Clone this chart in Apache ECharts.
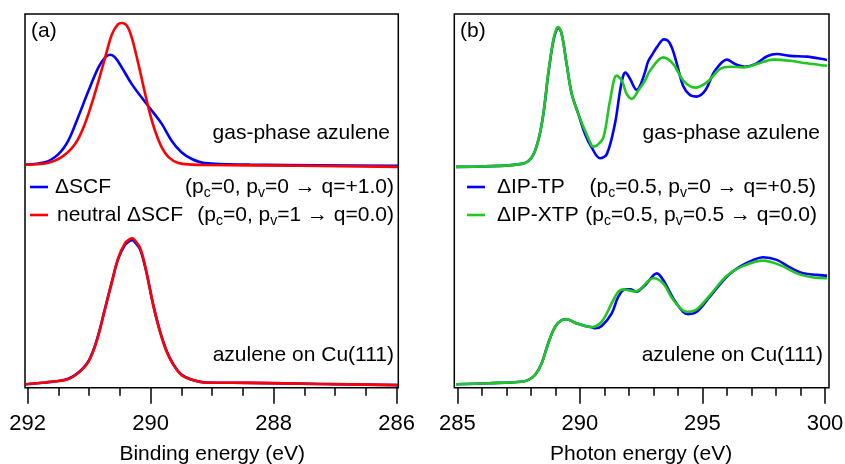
<!DOCTYPE html>
<html>
<head>
<meta charset="utf-8">
<script src="https://cdn.jsdelivr.net/npm/echarts@6/dist/echarts.min.js"></script>
<style>html,body{margin:0;padding:0;background:#fff}#c{width:845px;height:464px}</style>
</head>
<body>
<div id="c"></div>
<script>
// ---- (a) XPS, binding energy (eV), intensity in arbitrary units (0-100 panel scale)
const gasE_scf = [292.04, 291.72, 291.50, 291.34, 291.18, 291.01, 290.85, 290.74, 290.66, 290.58, 290.47, 290.31, 290.15, 289.98, 289.82, 289.66, 289.50, 289.33, 289.12, 288.39, 287.25, 285.97];
const gasScf   = [59.7, 60.3, 62.5, 66.1, 72.4, 79.5, 85.7, 88.4, 89.1, 88.4, 85.7, 81.3, 77.7, 74.1, 70.6, 66.1, 63.0, 61.2, 60.1, 59.7, 59.5, 59.4];
const gasE_neu = [292.04, 291.72, 291.45, 291.23, 291.07, 290.91, 290.74, 290.63, 290.53, 290.47, 290.39, 290.31, 290.20, 290.09, 290.01, 289.93, 289.82, 289.71, 289.55, 289.33, 289.12, 287.57, 285.97];
const gasNeutral = [59.7, 60.0, 61.7, 65.2, 70.6, 78.6, 88.4, 94.6, 97.3, 97.6, 96.9, 93.8, 86.6, 78.6, 73.2, 68.8, 64.3, 61.7, 60.1, 59.7, 59.6, 59.4, 59.1];
const cuE_a    = [292.04, 291.72, 291.50, 291.34, 291.18, 291.01, 290.88, 290.74, 290.63, 290.53, 290.42, 290.34, 290.30, 290.26, 290.17, 290.07, 289.96, 289.85, 289.74, 289.63, 289.50, 289.33, 289.12, 288.39, 287.25, 285.97];
const cuScf    = [0.9, 1.4, 1.8, 2.4, 4.0, 7.2, 12.6, 21.4, 28.4, 34.4, 38.2, 39.3, 39.5, 39.0, 36.9, 30.9, 22.3, 15.2, 9.8, 6.2, 3.5, 2.1, 1.4, 1.3, 1.0, 0.7];
const cuNeutral= [0.9, 1.4, 1.8, 2.3, 3.9, 7.0, 12.3, 21.2, 28.4, 34.6, 38.6, 39.8, 40.0, 39.5, 37.3, 31.0, 22.1, 15.0, 9.6, 6.1, 3.4, 2.1, 1.4, 1.3, 1.0, 0.7];

// ---- (b) NEXAFS, photon energy (eV)
const gasE_TP = [284.88, 285.93, 287.63, 288.04, 288.30, 288.51, 288.71, 288.92, 289.06, 289.12, 289.26, 289.46, 289.67, 289.94, 290.21, 290.48, 290.82, 291.10, 291.43, 291.64, 291.77, 291.86, 292.05, 292.32, 292.45, 292.66, 292.78, 292.94, 293.15, 293.43, 293.60, 293.76, 293.96, 294.21, 294.49, 294.77, 295.11, 295.51, 296.00, 296.33, 296.74, 297.15, 297.64, 298.04, 298.57, 299.27, 300.00, 300.16];
const gasTP   = [59.1, 59.2, 59.9, 61.7, 66.1, 73.2, 83.9, 92.9, 96.0, 96.2, 94.6, 86.6, 78.6, 73.2, 67.9, 64.3, 61.4, 62.5, 70.6, 79.5, 83.5, 84.3, 82.6, 79.7, 80.7, 84.5, 87.2, 89.0, 91.2, 93.2, 92.8, 90.9, 86.6, 80.8, 78.3, 77.9, 79.5, 84.8, 87.8, 86.6, 85.9, 86.6, 88.7, 89.3, 88.8, 88.6, 87.8, 87.6];
const gasE_XTP = [284.88, 285.93, 287.63, 288.04, 288.30, 288.51, 288.71, 288.92, 289.06, 289.12, 289.26, 289.46, 289.67, 289.94, 290.21, 290.48, 290.55, 290.69, 290.96, 291.23, 291.50, 291.71, 291.91, 292.12, 292.38, 292.66, 292.86, 293.40, 293.81, 294.22, 294.70, 295.18, 295.72, 296.13, 296.67, 297.22, 297.89, 298.57, 299.26, 300.00, 300.16];
const gasXTP   = [59.1, 59.2, 59.9, 61.7, 66.1, 73.2, 84.2, 93.2, 96.3, 96.5, 94.6, 86.6, 78.6, 73.2, 68.8, 64.8, 64.5, 64.8, 67.0, 76.8, 83.5, 82.2, 78.6, 77.3, 79.5, 82.2, 84.8, 88.4, 86.6, 82.2, 80.3, 81.7, 85.3, 85.9, 85.7, 86.6, 87.8, 87.5, 86.8, 86.2, 86.1];
const cuE_TP = [284.88, 286.26, 287.63, 287.90, 288.17, 288.44, 288.71, 288.99, 289.26, 289.46, 289.80, 290.21, 290.48, 290.62, 290.89, 291.30, 291.57, 291.84, 292.05, 292.32, 292.52, 292.73, 293.14, 293.40, 293.81, 294.21, 294.42, 294.77, 295.31, 295.99, 296.53, 297.08, 297.48, 298.03, 298.57, 299.12, 299.66, 300.00, 300.16];
const cuTP   = [0.9, 1.2, 1.6, 2.1, 3.4, 6.5, 11.9, 16.3, 18.1, 18.3, 17.4, 16.5, 16.2, 15.9, 16.5, 19.9, 24.4, 26.3, 26.3, 25.7, 26.6, 27.9, 30.6, 28.8, 23.9, 20.3, 19.7, 20.3, 24.4, 29.7, 32.4, 34.2, 34.9, 34.2, 32.2, 30.6, 30.2, 30.0, 30.0];
const cuE_XTP = [284.88, 286.26, 287.63, 287.90, 288.17, 288.44, 288.71, 288.99, 289.26, 289.46, 289.80, 290.21, 290.48, 290.89, 291.30, 291.57, 291.77, 291.98, 292.25, 292.45, 293.00, 293.40, 293.81, 294.36, 294.77, 295.31, 295.99, 296.67, 297.48, 298.17, 298.85, 299.52, 300.00, 300.16];
const cuXTP   = [0.9, 1.2, 1.6, 2.1, 3.4, 6.5, 11.9, 16.3, 18.1, 18.3, 17.4, 16.5, 16.2, 17.7, 22.6, 25.7, 26.3, 26.1, 25.7, 26.3, 29.3, 27.9, 23.5, 20.3, 21.0, 24.8, 29.9, 32.6, 34.0, 32.8, 30.6, 29.5, 29.3, 29.3];

// ---- axis ticks / labels
const xTicksA = [286, 292, 2];      // min, max, interval
const xTicksB = [285, 300, 5];
const xNameA = 'Binding energy (eV)';
const xNameB = 'Photon energy (eV)';

const FONT = "'Liberation Sans', Arial, Helvetica, sans-serif";
const BLUE = '#0000ff', RED = '#ff0000', GREEN = '#1ec81e';
const zip = (xs, ys) => xs.map((x, i) => [x, ys[i]]);

function dataAxis(grid, t, inverse, split, name) {
  return {
    gridIndex: grid, type: 'value', min: t[0], max: t[1], interval: t[2], inverse: inverse,
    axisLine: { show: false },
    axisTick: { show: true, length: 16, lineStyle: { color: '#000', width: 1.5 } },
    minorTick: { show: true, splitNumber: split, length: 8, lineStyle: { color: '#000', width: 1.5 } },
    axisLabel: { margin: 25, fontSize: 22, color: '#000', fontFamily: FONT },
    splitLine: { show: false }, minorSplitLine: { show: false },
    name: name, nameLocation: 'middle', nameGap: 56,
    nameTextStyle: { fontSize: 21, color: '#000', fontFamily: FONT }
  };
}
function line(x, y, color, z) {
  return {
    type: 'line', xAxisIndex: x, yAxisIndex: x, showSymbol: false, smooth: 0.35, clip: false,
    lineStyle: { color: color, width: 2.6 }, itemStyle: { color: color }, z: z, silent: true
  };
}
const sub = { fontSize: 14, fontFamily: FONT, color: '#000', verticalAlign: 'bottom', lineHeight: 14 };
const main = { fontSize: 21, fontFamily: FONT, color: '#000', lineHeight: 27 };
function txt(x, y, text, align, rich) {
  return { type: 'text', x: x, y: y, silent: true,
    style: { text: text, fill: '#000', font: '21px ' + FONT, align: align, verticalAlign: 'middle',
             rich: rich ? { m: main, s: sub } : undefined } };
}
function sample(x1, x2, y, color) {
  return { type: 'line', silent: true, shape: { x1: x1, y1: y, x2: x2, y2: y }, style: { stroke: color, lineWidth: 2.6 } };
}

const chart = echarts.init(document.getElementById('c'), null, { renderer: 'canvas' });
const hiddenAxis = (g) => ({ gridIndex: g, show: false, min: 0, max: 1 });
const yData = (g) => ({ gridIndex: g, type: 'value', show: false, min: 0, max: 100 });

const sA1 = Object.assign(line(1, 1, BLUE, 3), { data: zip(gasE_scf, gasScf) });
const sA2 = Object.assign(line(1, 1, RED, 4), { data: zip(gasE_neu, gasNeutral) });
const sA3 = Object.assign(line(1, 1, BLUE, 3), { data: zip(cuE_a, cuScf) });
const sA4 = Object.assign(line(1, 1, RED, 4), { data: zip(cuE_a, cuNeutral) });
const sB1 = Object.assign(line(3, 3, BLUE, 3), { data: zip(gasE_TP, gasTP) });
const sB2 = Object.assign(line(3, 3, GREEN, 4), { data: zip(gasE_XTP, gasXTP) });
const sB3 = Object.assign(line(3, 3, BLUE, 3), { data: zip(cuE_TP, cuTP) });
const sB4 = Object.assign(line(3, 3, GREEN, 4), { data: zip(cuE_XTP, cuXTP) });

const gridBase = { outerBoundsMode: 'none', containLabel: false };
chart.setOption({
  animation: false,
  backgroundColor: '#fff',
  grid: [
    Object.assign({ left: 25, top: 14, width: 373.3, height: 373.7, show: true, borderColor: '#000', borderWidth: 1.5, backgroundColor: 'transparent', z: 10 }, gridBase),
    Object.assign({ left: 27.7, top: 14, width: 369, height: 373.7 }, gridBase),
    Object.assign({ left: 454.3, top: 14, width: 374.7, height: 373.7, show: true, borderColor: '#000', borderWidth: 1.5, backgroundColor: 'transparent', z: 10 }, gridBase),
    Object.assign({ left: 457.3, top: 14, width: 367.7, height: 373.7 }, gridBase)
  ],
  xAxis: [hiddenAxis(0), dataAxis(1, xTicksA, true, 4, xNameA), hiddenAxis(2), dataAxis(3, xTicksB, false, 5, xNameB)],
  yAxis: [
    { gridIndex: 0, show: false, min: 0, max: 1 }, yData(1),
    { gridIndex: 2, show: false, min: 0, max: 1 }, yData(3)
  ],
  series: [sA1, sA2, sA3, sA4, sB1, sB2, sB3, sB4],
  graphic: [
    txt(31, 31, '(a)', 'left'),
    txt(460, 31, '(b)', 'left'),
    txt(390, 133, 'gas-phase azulene', 'right'),
    txt(820, 133, 'gas-phase azulene', 'right'),
    txt(394, 355, 'azulene on Cu(111)', 'right'),
    txt(823, 355, 'azulene on Cu(111)', 'right'),
    sample(30, 48, 187, BLUE),
    sample(30, 48, 215, RED),
    txt(55, 187, '\u0394SCF', 'left'),
    txt(57, 215, 'neutral \u0394SCF', 'left'),
    txt(394, 187, '{m|(p}{s|c}{m|=0, p}{s|v}{m|=0 \u2192 q=+1.0)}', 'right', true),
    txt(394, 215, '{m|(p}{s|c}{m|=0, p}{s|v}{m|=1 \u2192 q=0.0)}', 'right', true),
    sample(467, 485, 187, BLUE),
    sample(467, 485, 215, GREEN),
    txt(497, 187, '\u0394IP-TP', 'left'),
    txt(497, 215, '\u0394IP-XTP', 'left'),
    txt(816, 187, '{m|(p}{s|c}{m|=0.5, p}{s|v}{m|=0 \u2192 q=+0.5)}', 'right', true),
    txt(817, 215, '{m|(p}{s|c}{m|=0.5, p}{s|v}{m|=0.5 \u2192 q=0.0)}', 'right', true)
  ]
});
</script>
</body>
</html>
